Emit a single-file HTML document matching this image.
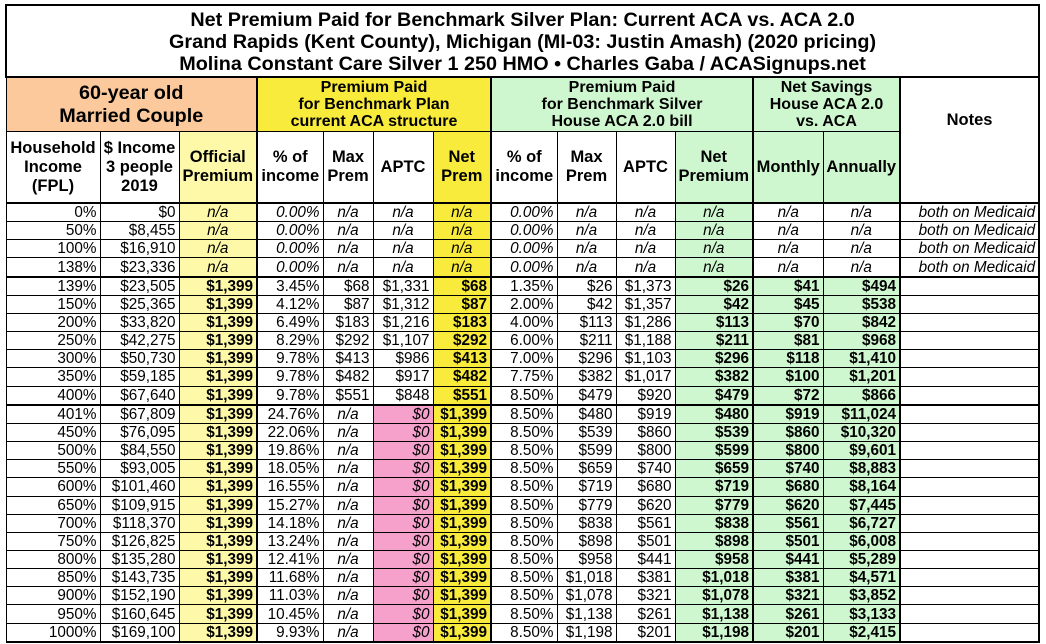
<!DOCTYPE html>
<html><head><meta charset="utf-8"><style>
body{margin:0;background:#fff;width:1046px;height:644px;overflow:hidden;font-family:"Liberation Sans",Arial,sans-serif;}
table{position:absolute;left:5px;top:4px;border-collapse:collapse;table-layout:fixed;width:1033px;}
td{border:1px solid #000;padding:0 3px 0 0;font-size:15.3px;line-height:17px;height:17px;text-align:right;white-space:nowrap;overflow:hidden;color:#000;}
tr.d td{height:17.17px;}
.h td{text-align:center;font-weight:bold;padding:0;line-height:19px;font-size:16.5px;}
.h2 td{font-size:16px;line-height:17px;}
.t{font-size:19.8px;font-weight:bold;text-align:center;line-height:22px;padding:2px 0 0 0;border:2px solid #000;}
.o{background:#fbc99c;}
.y{background:#fdf9a8;}
.Y{background:#f9eb3c;}
.g{background:#cff7cf;}
.p{background:#f5a1cb;}
.i{font-style:italic;}
.c{text-align:center;padding:0;}
.b{font-weight:bold;}
.L{border-left:2px solid #000;}
.R{border-right:2px solid #000;}
tr.T td{border-top:2px solid #000;}
tr.last td{border-bottom:2px solid #000;}
</style></head><body>
<table>
<colgroup><col style="width:94px"><col style="width:79px"><col style="width:78px"><col style="width:66px"><col style="width:50px"><col style="width:60px"><col style="width:58px"><col style="width:66px"><col style="width:59px"><col style="width:59px"><col style="width:78px"><col style="width:70px"><col style="width:77px"><col style="width:139px"></colgroup>
<tr><td colspan="14" class="t" style="height:68px">Net Premium Paid for Benchmark Silver Plan: Current ACA vs. ACA 2.0<br>Grand Rapids (Kent County), Michigan (MI-03: Justin Amash) (2020 pricing)<br>Molina Constant Care Silver 1 250 HMO • Charles Gaba / ACASignups.net</td></tr>
<tr class="h h2"><td colspan="3" class="o" style="height:53px;font-size:19.8px;line-height:23px;border-top:2px solid #000">60-year old<br>Married Couple</td><td colspan="4" class="Y L" style="border-top:2px solid #000">Premium Paid<br>for Benchmark Plan<br>current ACA structure</td><td colspan="4" class="g L" style="border-top:2px solid #000">Premium Paid<br>for Benchmark Silver<br>House ACA 2.0 bill</td><td colspan="2" class="g L" style="border-top:2px solid #000">Net Savings<br>House ACA 2.0<br>vs. ACA</td><td rowspan="2" class="L R" style="vertical-align:middle;padding-bottom:40px;border-top:2px solid #000;font-size:16.5px">Notes</td></tr>
<tr class="h"><td style="height:70px">Household<br>Income<br>(FPL)</td><td>$ Income<br>3 people<br>2019</td><td class="y">Official<br>Premium</td><td class="L">% of<br>income</td><td>Max<br>Prem</td><td>APTC</td><td class="Y">Net<br>Prem</td><td class="L">% of<br>income</td><td>Max<br>Prem</td><td>APTC</td><td class="g">Net<br>Premium</td><td class="g L">Monthly</td><td class="g">Annually</td></tr>
<tr class="d T"><td>0%</td><td>$0</td><td class="y i c">n/a</td><td class="i L">0.00%</td><td class="i c">n/a</td><td class="i c">n/a</td><td class="Y i c">n/a</td><td class="i L">0.00%</td><td class="i c">n/a</td><td class="i c">n/a</td><td class="g i c">n/a</td><td class="i c L">n/a</td><td class="i c">n/a</td><td class="i L R">both on Medicaid</td></tr>
<tr class="d"><td>50%</td><td>$8,455</td><td class="y i c">n/a</td><td class="i L">0.00%</td><td class="i c">n/a</td><td class="i c">n/a</td><td class="Y i c">n/a</td><td class="i L">0.00%</td><td class="i c">n/a</td><td class="i c">n/a</td><td class="g i c">n/a</td><td class="i c L">n/a</td><td class="i c">n/a</td><td class="i L R">both on Medicaid</td></tr>
<tr class="d"><td>100%</td><td>$16,910</td><td class="y i c">n/a</td><td class="i L">0.00%</td><td class="i c">n/a</td><td class="i c">n/a</td><td class="Y i c">n/a</td><td class="i L">0.00%</td><td class="i c">n/a</td><td class="i c">n/a</td><td class="g i c">n/a</td><td class="i c L">n/a</td><td class="i c">n/a</td><td class="i L R">both on Medicaid</td></tr>
<tr class="d"><td>138%</td><td>$23,336</td><td class="y i c">n/a</td><td class="i L">0.00%</td><td class="i c">n/a</td><td class="i c">n/a</td><td class="Y i c">n/a</td><td class="i L">0.00%</td><td class="i c">n/a</td><td class="i c">n/a</td><td class="g i c">n/a</td><td class="i c L">n/a</td><td class="i c">n/a</td><td class="i L R">both on Medicaid</td></tr>
<tr class="d T"><td>139%</td><td>$23,505</td><td class="y b">$1,399</td><td class="L">3.45%</td><td>$68</td><td>$1,331</td><td class="Y b">$68</td><td class="L">1.35%</td><td>$26</td><td>$1,373</td><td class="g b">$26</td><td class="g b L">$41</td><td class="g b">$494</td><td class="L R"></td></tr>
<tr class="d"><td>150%</td><td>$25,365</td><td class="y b">$1,399</td><td class="L">4.12%</td><td>$87</td><td>$1,312</td><td class="Y b">$87</td><td class="L">2.00%</td><td>$42</td><td>$1,357</td><td class="g b">$42</td><td class="g b L">$45</td><td class="g b">$538</td><td class="L R"></td></tr>
<tr class="d"><td>200%</td><td>$33,820</td><td class="y b">$1,399</td><td class="L">6.49%</td><td>$183</td><td>$1,216</td><td class="Y b">$183</td><td class="L">4.00%</td><td>$113</td><td>$1,286</td><td class="g b">$113</td><td class="g b L">$70</td><td class="g b">$842</td><td class="L R"></td></tr>
<tr class="d"><td>250%</td><td>$42,275</td><td class="y b">$1,399</td><td class="L">8.29%</td><td>$292</td><td>$1,107</td><td class="Y b">$292</td><td class="L">6.00%</td><td>$211</td><td>$1,188</td><td class="g b">$211</td><td class="g b L">$81</td><td class="g b">$968</td><td class="L R"></td></tr>
<tr class="d"><td>300%</td><td>$50,730</td><td class="y b">$1,399</td><td class="L">9.78%</td><td>$413</td><td>$986</td><td class="Y b">$413</td><td class="L">7.00%</td><td>$296</td><td>$1,103</td><td class="g b">$296</td><td class="g b L">$118</td><td class="g b">$1,410</td><td class="L R"></td></tr>
<tr class="d"><td>350%</td><td>$59,185</td><td class="y b">$1,399</td><td class="L">9.78%</td><td>$482</td><td>$917</td><td class="Y b">$482</td><td class="L">7.75%</td><td>$382</td><td>$1,017</td><td class="g b">$382</td><td class="g b L">$100</td><td class="g b">$1,201</td><td class="L R"></td></tr>
<tr class="d"><td>400%</td><td>$67,640</td><td class="y b">$1,399</td><td class="L">9.78%</td><td>$551</td><td>$848</td><td class="Y b">$551</td><td class="L">8.50%</td><td>$479</td><td>$920</td><td class="g b">$479</td><td class="g b L">$72</td><td class="g b">$866</td><td class="L R"></td></tr>
<tr class="d T"><td>401%</td><td>$67,809</td><td class="y b">$1,399</td><td class="L">24.76%</td><td class="i c">n/a</td><td class="p i">$0</td><td class="Y b">$1,399</td><td class="L">8.50%</td><td>$480</td><td>$919</td><td class="g b">$480</td><td class="g b L">$919</td><td class="g b">$11,024</td><td class="L R"></td></tr>
<tr class="d"><td>450%</td><td>$76,095</td><td class="y b">$1,399</td><td class="L">22.06%</td><td class="i c">n/a</td><td class="p i">$0</td><td class="Y b">$1,399</td><td class="L">8.50%</td><td>$539</td><td>$860</td><td class="g b">$539</td><td class="g b L">$860</td><td class="g b">$10,320</td><td class="L R"></td></tr>
<tr class="d"><td>500%</td><td>$84,550</td><td class="y b">$1,399</td><td class="L">19.86%</td><td class="i c">n/a</td><td class="p i">$0</td><td class="Y b">$1,399</td><td class="L">8.50%</td><td>$599</td><td>$800</td><td class="g b">$599</td><td class="g b L">$800</td><td class="g b">$9,601</td><td class="L R"></td></tr>
<tr class="d"><td>550%</td><td>$93,005</td><td class="y b">$1,399</td><td class="L">18.05%</td><td class="i c">n/a</td><td class="p i">$0</td><td class="Y b">$1,399</td><td class="L">8.50%</td><td>$659</td><td>$740</td><td class="g b">$659</td><td class="g b L">$740</td><td class="g b">$8,883</td><td class="L R"></td></tr>
<tr class="d"><td>600%</td><td>$101,460</td><td class="y b">$1,399</td><td class="L">16.55%</td><td class="i c">n/a</td><td class="p i">$0</td><td class="Y b">$1,399</td><td class="L">8.50%</td><td>$719</td><td>$680</td><td class="g b">$719</td><td class="g b L">$680</td><td class="g b">$8,164</td><td class="L R"></td></tr>
<tr class="d"><td>650%</td><td>$109,915</td><td class="y b">$1,399</td><td class="L">15.27%</td><td class="i c">n/a</td><td class="p i">$0</td><td class="Y b">$1,399</td><td class="L">8.50%</td><td>$779</td><td>$620</td><td class="g b">$779</td><td class="g b L">$620</td><td class="g b">$7,445</td><td class="L R"></td></tr>
<tr class="d"><td>700%</td><td>$118,370</td><td class="y b">$1,399</td><td class="L">14.18%</td><td class="i c">n/a</td><td class="p i">$0</td><td class="Y b">$1,399</td><td class="L">8.50%</td><td>$838</td><td>$561</td><td class="g b">$838</td><td class="g b L">$561</td><td class="g b">$6,727</td><td class="L R"></td></tr>
<tr class="d"><td>750%</td><td>$126,825</td><td class="y b">$1,399</td><td class="L">13.24%</td><td class="i c">n/a</td><td class="p i">$0</td><td class="Y b">$1,399</td><td class="L">8.50%</td><td>$898</td><td>$501</td><td class="g b">$898</td><td class="g b L">$501</td><td class="g b">$6,008</td><td class="L R"></td></tr>
<tr class="d"><td>800%</td><td>$135,280</td><td class="y b">$1,399</td><td class="L">12.41%</td><td class="i c">n/a</td><td class="p i">$0</td><td class="Y b">$1,399</td><td class="L">8.50%</td><td>$958</td><td>$441</td><td class="g b">$958</td><td class="g b L">$441</td><td class="g b">$5,289</td><td class="L R"></td></tr>
<tr class="d"><td>850%</td><td>$143,735</td><td class="y b">$1,399</td><td class="L">11.68%</td><td class="i c">n/a</td><td class="p i">$0</td><td class="Y b">$1,399</td><td class="L">8.50%</td><td>$1,018</td><td>$381</td><td class="g b">$1,018</td><td class="g b L">$381</td><td class="g b">$4,571</td><td class="L R"></td></tr>
<tr class="d"><td>900%</td><td>$152,190</td><td class="y b">$1,399</td><td class="L">11.03%</td><td class="i c">n/a</td><td class="p i">$0</td><td class="Y b">$1,399</td><td class="L">8.50%</td><td>$1,078</td><td>$321</td><td class="g b">$1,078</td><td class="g b L">$321</td><td class="g b">$3,852</td><td class="L R"></td></tr>
<tr class="d"><td>950%</td><td>$160,645</td><td class="y b">$1,399</td><td class="L">10.45%</td><td class="i c">n/a</td><td class="p i">$0</td><td class="Y b">$1,399</td><td class="L">8.50%</td><td>$1,138</td><td>$261</td><td class="g b">$1,138</td><td class="g b L">$261</td><td class="g b">$3,133</td><td class="L R"></td></tr>
<tr class="d last"><td>1000%</td><td>$169,100</td><td class="y b">$1,399</td><td class="L">9.93%</td><td class="i c">n/a</td><td class="p i">$0</td><td class="Y b">$1,399</td><td class="L">8.50%</td><td>$1,198</td><td>$201</td><td class="g b">$1,198</td><td class="g b L">$201</td><td class="g b">$2,415</td><td class="L R"></td></tr>
</table>
</body></html>
